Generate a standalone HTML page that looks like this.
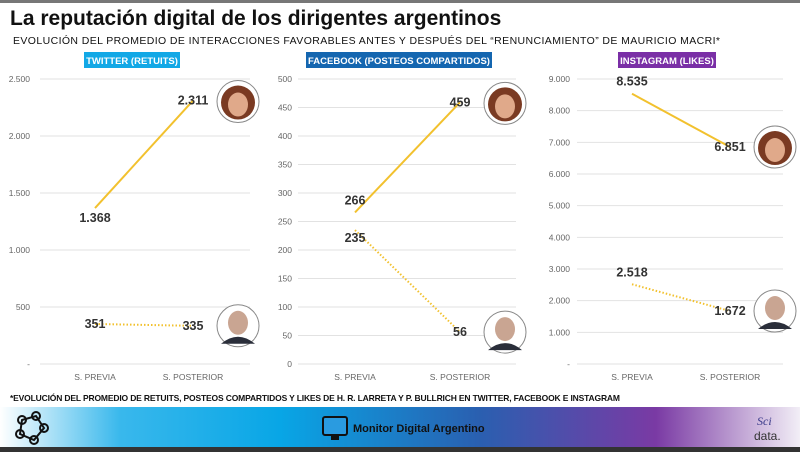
<!DOCTYPE html>
<html><head><meta charset="utf-8">
<style>
body{margin:0;width:800px;height:452px;overflow:hidden;background:#fff;font-family:"Liberation Sans",sans-serif;}
#wrap{position:relative;width:800px;height:452px;}
</style></head>
<body><div id="wrap">
<svg id="svg" width="800" height="452">
<defs>
<linearGradient id="band" x1="0" x2="1" y1="0" y2="0">
<stop offset="0" stop-color="#ffffff"/><stop offset="0.15" stop-color="#39b8ec"/><stop offset="0.35" stop-color="#08a6e6"/><stop offset="0.6" stop-color="#2a5fb0"/><stop offset="0.82" stop-color="#7a3aa4"/><stop offset="1" stop-color="#f2eef6"/>
</linearGradient>
</defs>
<rect x="0" y="0" width="800" height="3" fill="#777"/>
<text x="10" y="25" font-size="21" font-weight="bold" fill="#111">La reputación digital de los dirigentes argentinos</text>
<text x="13" y="44" font-size="10.5" fill="#111" textLength="707">EVOLUCIÓN DEL PROMEDIO DE INTERACCIONES FAVORABLES ANTES Y DESPUÉS DEL “RENUNCIAMIENTO” DE MAURICIO MACRI*</text>
<g id="charts"></g>
<text x="10" y="401" font-size="8.5" font-weight="bold" fill="#111" textLength="610">*EVOLUCIÓN DEL PROMEDIO DE RETUITS, POSTEOS COMPARTIDOS Y LIKES DE H. R. LARRETA Y P. BULLRICH EN TWITTER, FACEBOOK E INSTAGRAM</text>
<rect x="0" y="407" width="800" height="40" fill="url(#band)"/>
<rect x="0" y="447" width="800" height="5" fill="#333"/>
<g stroke="#111" stroke-width="2" fill="none">
<circle cx="22" cy="420" r="4"/><circle cx="36" cy="416" r="4"/><circle cx="44" cy="428" r="4"/><circle cx="34" cy="440" r="4"/><circle cx="20" cy="434" r="4"/>
<path d="M22 420L36 416L44 428L34 440L20 434Z"/></g>
<g><rect x="323" y="417" width="24" height="18" rx="2" fill="#2a9be0" stroke="#111" stroke-width="2"/><rect x="331" y="435" width="8" height="5" fill="#111"/></g>
<text x="353" y="432" font-size="11" font-weight="bold" fill="#111">Monitor Digital Argentino</text>
<text x="757" y="425" font-size="12" font-style="italic" fill="#3a3a8a" font-family="Liberation Serif,serif">Sci</text>
<text x="754" y="440" font-size="12" fill="#333">data.</text>
</svg>
<script>
const panelNames=["twitter","facebook","instagram"];
const panelTitles=["TWITTER (RETUITS)","FACEBOOK (POSTEOS COMPARTIDOS)","INSTAGRAM (LIKES)"];
const categories=["S. PREVIA","S. POSTERIOR"];
const bullrichValues=[[1368,2311],[266,459],[8535,6851]];
const larretaValues=[[351,335],[235,56],[2518,1672]];
const bullrichLabels=[["1.368","2.311"],["266","459"],["8.535","6.851"]];
const larretaLabels=[["351","335"],["235","56"],["2.518","1.672"]];
const axisMax=[2500,500,9000];
const tickStep=[500,50,1000];
const fmt=[v=>v===0?"-":v.toLocaleString("de-DE"),v=>String(v),v=>v===0?"-":v.toLocaleString("de-DE")];

const layout=[{gx0:40,gx1:250,px:[95,193],lx:30,tx:84,tw:96,tc:"#12a8e6"},
{gx0:298,gx1:516,px:[355,460],lx:292,tx:306,tw:186,tc:"#1466b0"},
{gx0:577,gx1:783,px:[632,730],lx:570,tx:618,tw:98,tc:"#7a2fa6"}];
const Y0=364,Y1=79;
const NS="http://www.w3.org/2000/svg";
const g=document.getElementById("charts");
function el(t,a,p){const e=document.createElementNS(NS,t);for(const k in a)e.setAttribute(k,a[k]);(p||g).appendChild(e);return e;}
function face(cx,cy,woman,parent){
  el("circle",{cx:cx,cy:cy,r:21,fill:"#fff",stroke:"#888","stroke-width":1},parent);
  if(woman){el("circle",{cx:cx,cy:cy+1,r:17,fill:"#7a3a22"},parent);el("ellipse",{cx:cx,cy:cy+3,rx:10,ry:12,fill:"#e0a98a"},parent);}
  else{el("path",{d:`M${cx-17} ${cy+18}Q${cx} ${cy+4} ${cx+17} ${cy+18}Z`,fill:"#2a2e3a"},parent);el("ellipse",{cx:cx,cy:cy-3,rx:10,ry:12,fill:"#c9a592"},parent);}
}
panelNames.forEach((n,i)=>{
  const L=layout[i];
  const pg=el("g",{});
  
  
  const y=v=>Y0-(v/axisMax[i])*(Y0-Y1);
  const tb=el("rect",{x:L.tx,y:52,width:L.tw,height:16,fill:L.tc},pg);
  
  
  const tt=el("text",{x:L.tx+L.tw/2,y:64,"font-size":9.5,"font-weight":"bold",fill:"#fff","text-anchor":"middle"},pg);
  tt.textContent=panelTitles[i];
  
  
  for(let v=0;v<=axisMax[i];v+=tickStep[i]){
    const gl=el("line",{x1:L.gx0,x2:L.gx1,y1:y(v),y2:y(v),stroke:"#e2e2e2","stroke-width":1},pg);
    
    
    const tl=el("text",{x:L.lx,y:y(v)+3,"font-size":8.5,fill:"#666","text-anchor":"end"},pg);
    tl.textContent=fmt[i](v);
    
    
  }
  categories.forEach((c,j)=>{
    const cl=el("text",{x:L.px[j],y:380,"font-size":8.5,fill:"#666","text-anchor":"middle"},pg);
    cl.textContent=c;
    
    
  });
  const bl=el("line",{x1:L.px[0],x2:L.px[1],y1:y(bullrichValues[i][0]),y2:y(bullrichValues[i][1]),stroke:"#f2c12e","stroke-width":2},pg);
  
  
  const ll=el("line",{x1:L.px[0],x2:L.px[1],y1:y(larretaValues[i][0]),y2:y(larretaValues[i][1]),stroke:"#f2c12e","stroke-width":2,"stroke-dasharray":"1.5 2"},pg);
  
  
  [[bullrichValues,bullrichLabels,"bullrich"],[larretaValues,larretaLabels,"larreta"]].forEach(([vals,labs,who])=>{
    vals[i].forEach((v,j)=>{
      let dy=4;
      if(i===1&&j===0)dy=who==="bullrich"?-8:12;
      if(i===0&&j===0&&who==="bullrich")dy=14;
      if(i===2&&j===0)dy=-8;
      const t=el("text",{x:L.px[j],y:y(v)+dy,"font-size":12.5,"font-weight":"bold",fill:"#333","text-anchor":j===0?"middle":"middle"},pg);
      t.textContent=labs[i][j];
      
      
    });
    const fg=el("g",{},pg);
    
    
    face(L.px[1]+45,y(vals[i][1])-(who==="bullrich"&&i<2?-1:0)+(i===2&&who==="larreta"?0:0),who==="bullrich",fg);
  });
});
</script>
</div></body></html>
